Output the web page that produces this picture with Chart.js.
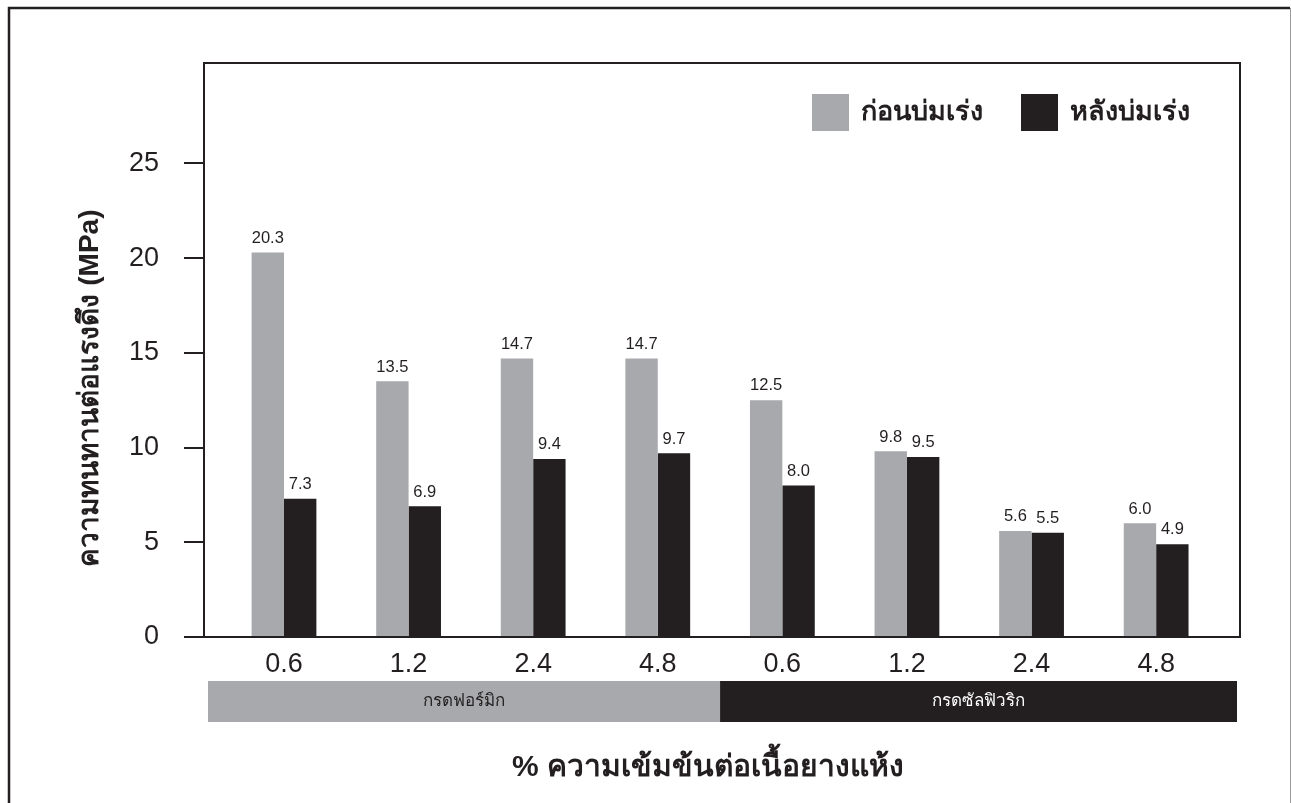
<!DOCTYPE html>
<html>
<head>
<meta charset="utf-8">
<title>ความทนทานต่อแรงดึง</title>
<script src="https://cdn.jsdelivr.net/npm/chart.js@4.4.0/dist/chart.umd.min.js"></script>
<style>
  html, body { margin: 0; padding: 0; background: #fff; }
</style>
</head>
<body>
<canvas id="strengthChart" width="1291" height="803"></canvas>
<script>
// tensile strength (MPa) by acid concentration, before / after ageing
const concentrations = ['0.6', '1.2', '2.4', '4.8', '0.6', '1.2', '2.4', '4.8'];
const beforeAging = [20.3, 13.5, 14.7, 14.7, 12.5, 9.8, 5.6, 6.0];
const afterAging = [7.3, 6.9, 9.4, 9.7, 8.0, 9.5, 5.5, 4.9];
const seriesNames = ['ก่อนบ่มเร่ง', 'หลังบ่มเร่ง'];
const acidGroups = ['กรดฟอร์มิก', 'กรดซัลฟิวริก'];
const groupSizes = [4, 4];
const yTicks = [0, 5, 10, 15, 20, 25];

const GRAY = '#a7a9ac';
const INK = '#231f20';
const FONT = "'Liberation Sans', Arial, sans-serif";

// outer frame + box round the plot
const framePlugin = {
    id: 'frames',
    beforeDraw(chart) {
        const ctx = chart.ctx;
        ctx.save();
        ctx.fillStyle = '#fff';
        ctx.fillRect(0, 0, chart.width, chart.height);
        ctx.strokeStyle = INK;
        ctx.lineWidth = 2.5;
        ctx.beginPath();
        ctx.moveTo(9, chart.height + 5);
        ctx.lineTo(9, 8);
        ctx.lineTo(1290, 8);
        ctx.stroke();
        ctx.strokeStyle = '#9a9a9a';
        ctx.lineWidth = 1;
        ctx.beginPath();
        ctx.moveTo(1290.5, 8);
        ctx.lineTo(1290.5, chart.height + 5);
        ctx.stroke();
        ctx.restore();
    },
    afterDatasetsDraw(chart) {
        const { ctx, chartArea: a } = chart;
        ctx.save();
        ctx.strokeStyle = INK;
        ctx.lineWidth = 2;
        ctx.strokeRect(a.left, a.top, a.right - a.left, a.bottom - a.top);
        ctx.restore();
    }
};

// numbers above each bar
const valueLabels = {
    id: 'valueLabels',
    afterDatasetsDraw(chart) {
        const ctx = chart.ctx;
        ctx.save();
        ctx.font = '16.5px ' + FONT;
        ctx.fillStyle = INK;
        ctx.textAlign = 'center';
        ctx.textBaseline = 'bottom';
        chart.data.datasets.forEach((ds, di) => {
            chart.getDatasetMeta(di).data.forEach((bar, i) => {
                ctx.fillText(ds.data[i].y.toFixed(1), bar.x, bar.y - 6);
            });
        });
        ctx.restore();
    }
};

// legend sitting inside the plot, top right
const insideLegend = {
    id: 'insideLegend',
    afterDatasetsDraw(chart) {
        const { ctx, chartArea: a } = chart;
        const box = 37, gap = 12, spacing = 38;
        const top = a.top + 31;
        ctx.save();
        ctx.font = 'bold 27px ' + FONT;
        ctx.textBaseline = 'middle';
        ctx.textAlign = 'left';
        const items = chart.data.datasets.map(ds => ({
            label: ds.label,
            color: ds.backgroundColor,
            w: ctx.measureText(ds.label).width
        }));
        let x = a.right - 50;
        for (let i = items.length - 1; i >= 0; i--) {
            x -= items[i].w + gap + box;
            items[i].x = x;
            x -= spacing;
        }
        items.forEach(it => {
            ctx.fillStyle = it.color;
            ctx.fillRect(it.x, top, box, box);
            ctx.fillStyle = INK;
            ctx.fillText(it.label, it.x + box + gap, top + box / 2);
        });
        ctx.restore();
    }
};

// acid group bands under the ticks, and both axis titles
const groupBands = {
    id: 'groupBands',
    afterDraw(chart) {
        const { ctx, chartArea: a, scales } = chart;
        const x = scales.x;
        const top = 681, h = 41;
        const fills = [GRAY, INK];
        const textColors = [INK, '#fff'];
        let start = 0;
        ctx.save();
        acidGroups.forEach((name, g) => {
            const end = start + groupSizes[g];
            const x0 = g === 0 ? a.left + 4 : x.getPixelForValue(start - 0.5);
            const x1 = g === acidGroups.length - 1 ? a.right - 3 : x.getPixelForValue(end - 0.5);
            ctx.fillStyle = fills[g];
            ctx.fillRect(x0, top, x1 - x0, h);
            ctx.fillStyle = textColors[g];
            ctx.font = '17px ' + FONT;
            ctx.textAlign = 'center';
            ctx.textBaseline = 'middle';
            ctx.fillText(name, (x0 + x1) / 2, top + h / 2);
            start = end;
        });

        ctx.fillStyle = INK;
        ctx.font = 'bold 30px ' + FONT;
        ctx.textAlign = 'center';
        ctx.textBaseline = 'middle';
        ctx.fillText('% ความเข้มข้นต่อเนื้อยางแห้ง', 708, 768);

        ctx.translate(90, 388);
        ctx.rotate(-Math.PI / 2);
        ctx.font = 'bold 28px ' + FONT;
        ctx.fillText('ความทนทานต่อแรงดึง (MPa)', 0, 0);
        ctx.restore();
    }
};

const toPoints = arr => arr.map((v, i) => ({ x: i, y: v }));

new Chart(document.getElementById('strengthChart'), {
    type: 'bar',
    data: {
        datasets: [
            { label: seriesNames[0], data: toPoints(beforeAging), backgroundColor: GRAY, borderWidth: 0 },
            { label: seriesNames[1], data: toPoints(afterAging), backgroundColor: INK, borderWidth: 0 }
        ]
    },
    options: {
        responsive: false,
        animation: false,
        layout: { padding: { top: 63, right: 51, bottom: 0, left: 0 } },
        datasets: { bar: { categoryPercentage: 0.52, barPercentage: 1.0 } },
        scales: {
            x: {
                type: 'linear',
                offset: false,
                min: -0.642,
                max: 7.673,
                afterBuildTicks: scale => { scale.ticks = concentrations.map((_, i) => ({ value: i })); },
                afterFit: scale => { scale.height = 166; },
                grid: { display: false, drawTicks: false },
                border: { display: false },
                ticks: {
                    padding: 11,
                    color: INK,
                    font: { family: FONT, size: 27 },
                    callback: v => concentrations[v] ?? ''
                }
            },
            y: {
                min: 0,
                max: 30.3,
                afterBuildTicks: scale => { scale.ticks = yTicks.map(v => ({ value: v })); },
                afterFit: scale => { scale.width = 204; },
                grid: { drawOnChartArea: false, drawTicks: true, tickLength: 20, tickColor: INK, lineWidth: 2 },
                border: { display: false },
                ticks: {
                    padding: 25,
                    color: INK,
                    font: { family: FONT, size: 27 }
                }
            }
        },
        plugins: {
            legend: { display: false },
            tooltip: { enabled: false }
        }
    },
    plugins: [framePlugin, valueLabels, insideLegend, groupBands]
});
</script>
</body>
</html>
